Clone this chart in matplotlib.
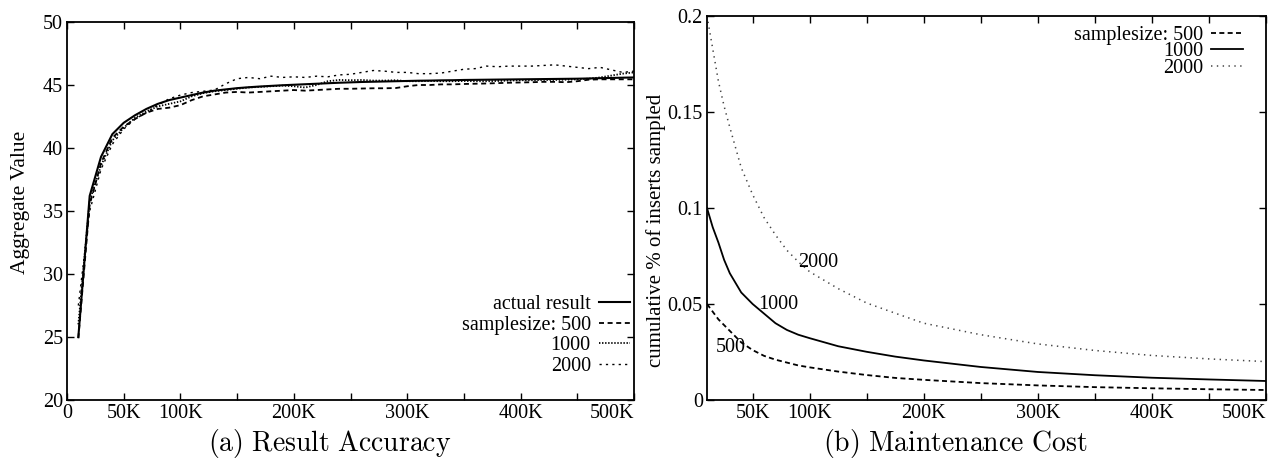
import matplotlib
matplotlib.use("Agg")
import matplotlib.pyplot as plt

plt.rcParams['font.family'] = ['Liberation Serif', 'DejaVu Serif']
plt.rcParams['mathtext.fontset'] = 'cm'
plt.rcParams['lines.scale_dashes'] = False

# ---------------- (a) Result Accuracy ----------------
x_a = [10000 * i for i in range(1, 51)]
actual = [25.0, 36.2, 39.3, 41.1, 42.0, 42.6, 43.1, 43.5, 43.8, 44.0,
          44.2, 44.4, 44.55, 44.65, 44.75, 44.82, 44.88, 44.93, 44.98, 45.02,
          45.06, 45.1, 45.14, 45.18, 45.21, 45.24, 45.26, 45.28, 45.3, 45.32,
          45.34, 45.35, 45.37, 45.38, 45.4, 45.41, 45.42, 45.43, 45.44, 45.45,
          45.46, 45.47, 45.48, 45.49, 45.5, 45.52, 45.54, 45.56, 45.58, 45.6]
s500 = [24.9, 35.5, 38.8, 40.8, 41.7, 42.3, 42.8, 43.1, 43.2, 43.4,
        43.8, 44.1, 44.25, 44.4, 44.45, 44.4, 44.45, 44.5, 44.55, 44.6,
        44.55, 44.6, 44.65, 44.7, 44.7, 44.72, 44.74, 44.74, 44.76, 44.9,
        45.0, 45.0, 45.05, 45.05, 45.08, 45.1, 45.12, 45.15, 45.18, 45.2,
        45.22, 45.25, 45.25, 45.22, 45.3, 45.42, 45.45, 45.45, 45.45, 45.45]
s1000 = [26.0, 35.8, 38.6, 40.6, 41.6, 42.4, 42.9, 43.3, 43.5, 43.7,
         44.1, 44.35, 44.5, 44.6, 44.7, 44.8, 44.85, 44.9, 44.95, 44.9,
         44.8, 45.0, 45.3, 45.4, 45.38, 45.4, 45.35, 45.35, 45.38, 45.3,
         45.3, 45.32, 45.3, 45.3, 45.32, 45.3, 45.3, 45.32, 45.35, 45.38,
         45.38, 45.4, 45.4, 45.42, 45.45, 45.5, 45.6, 45.75, 45.9, 46.0]
s2000 = [27.5, 35.0, 38.3, 40.3, 41.5, 42.3, 42.8, 43.4, 43.9, 44.2,
         44.4, 44.5, 44.6, 45.1, 45.5, 45.6, 45.5, 45.7, 45.6, 45.65,
         45.6, 45.7, 45.65, 45.8, 45.85, 46.0, 46.15, 46.1, 46.0, 46.0,
         45.9, 45.9, 45.95, 46.1, 46.25, 46.3, 46.5, 46.45, 46.5, 46.5,
         46.5, 46.55, 46.6, 46.5, 46.4, 46.3, 46.4, 46.2, 46.0, 46.1]
xticks_a = [50000 * i for i in range(0, 11)]
xticklabels_a = ['0', '50K', '100K', '', '200K', '', '300K', '', '400K', '', '500K']
yticks_a = [20, 25, 30, 35, 40, 45, 50]

# ---------------- (b) Maintenance Cost ----------------
x_b = [10000, 15000, 20000, 25000, 30000, 40000, 50000, 60000, 70000, 80000,
       90000, 100000, 125000, 150000, 175000, 200000, 250000, 300000, 350000,
       400000, 450000, 500000]
m500 = [0.050, 0.046, 0.042, 0.039, 0.036, 0.030, 0.026, 0.023, 0.021, 0.0195,
        0.018, 0.017, 0.0148, 0.0130, 0.0115, 0.0105, 0.0088, 0.0076, 0.0067,
        0.0061, 0.0056, 0.0052]
m1000 = [0.100, 0.090, 0.082, 0.073, 0.066, 0.056, 0.050, 0.045, 0.040, 0.0365,
         0.034, 0.0322, 0.028, 0.0251, 0.0226, 0.0206, 0.0172, 0.0146, 0.0129,
         0.0116, 0.0107, 0.0099]
m2000 = [0.200, 0.183, 0.166, 0.153, 0.142, 0.121, 0.107, 0.095, 0.086, 0.078,
         0.072, 0.0668, 0.058, 0.0505, 0.0452, 0.0400, 0.0340, 0.0292, 0.0258,
         0.0232, 0.0214, 0.0200]
xticks_b = [50000 * i for i in range(1, 11)]
xticklabels_b = ['50K', '100K', '', '200K', '', '300K', '', '400K', '', '500K']
yticks_b = [0, 0.05, 0.1, 0.15, 0.2]
yticklabels_b = ['0', '0.05', '0.1', '0.15', '0.2']

FS = 14.5
W, H = 1268, 462
fig = plt.figure(figsize=(W / 100, H / 100), dpi=100)

def frac(l, t, r, b):
    return [l / W, 1 - b / H, (r - l) / W, (b - t) / H]

ax1 = fig.add_axes(frac(67, 22, 634, 400))
ax2 = fig.add_axes(frac(707, 16, 1266, 400))

for ax in (ax1, ax2):
    for s in ax.spines.values():
        s.set_linewidth(1.3)
    ax.tick_params(direction='in', top=True, right=True, length=5, width=1,
                   labelsize=FS, pad=3)

# (a)
ax1.plot(x_a, actual, color='black', lw=1.5, ls='-', label='actual result')
ax1.plot(x_a, s500, color='black', lw=1.3, ls=(0, (3.6, 2.6)), label='samplesize: 500')
ax1.plot(x_a, s1000, color='black', lw=1.3, ls=(0, (1.0, 1.2)), label='1000')
ax1.plot(x_a, s2000, color='black', lw=1.0, ls=(0, (1.6, 3.0)), label='2000')
ax1.set_xlim(0, 500000)
ax1.set_ylim(20, 50)
ax1.set_xticks(xticks_a)
ax1.set_xticklabels(xticklabels_a)
ax1.get_xticklabels()[-1].set_horizontalalignment('right')
ax1.set_yticks(yticks_a)
ax1.set_yticklabels([str(v) for v in yticks_a])
fig.text(21 / W, 1 - 202 / H, 'Aggregate Value', rotation=90,
         ha='center', va='center', fontsize=15.5)
ax1.legend(loc='upper right', bbox_to_anchor=(0.993, 0.277), frameon=False,
           markerfirst=False, fontsize=FS, handlelength=1.55,
           handletextpad=0.4, labelspacing=0.07, borderpad=0, borderaxespad=0)

# (b)
ax2.plot(x_b, m500, color='black', lw=1.3, ls=(0, (3.6, 2.4)), label='samplesize: 500')
ax2.plot(x_b, m1000, color='black', lw=1.3, ls='-', label='1000')
ax2.plot(x_b, m2000, color='#444444', lw=1.1, ls=(0, (1.0, 3.2)), label='2000')
ax2.set_xlim(10000, 500000)
ax2.set_ylim(0, 0.2)
ax2.set_xticks(xticks_b)
ax2.set_xticklabels(xticklabels_b)
ax2.get_xticklabels()[-1].set_horizontalalignment('right')
ax2.set_yticks(yticks_b)
ax2.set_yticklabels(yticklabels_b)
fig.text(656 / W, 1 - 230 / H, 'cumulative % of inserts sampled', rotation=90,
         ha='center', va='center', fontsize=15)
ax2.legend(loc='upper right', bbox_to_anchor=(0.958, 0.975), frameon=False,
           markerfirst=False, fontsize=FS, handlelength=1.55,
           handletextpad=0.4, labelspacing=-0.12, borderpad=0, borderaxespad=0)
ax2.text(90000, 0.0714, '2000', ha='left', va='center', fontsize=FS)
ax2.text(55000, 0.0495, '1000', ha='left', va='center', fontsize=FS)
ax2.text(18000, 0.0276, '500', ha='left', va='center', fontsize=FS)

fig.text(330 / W, 1 - 444 / H, r'$\mathrm{(a)\ Result\ Accuracy}$', ha='center',
         va='center', fontsize=20)
fig.text(955 / W, 1 - 444 / H, r'$\mathrm{(b)\ Maintenance\ Cost}$', ha='center',
         va='center', fontsize=20)

fig.savefig('out.png', dpi=100)
